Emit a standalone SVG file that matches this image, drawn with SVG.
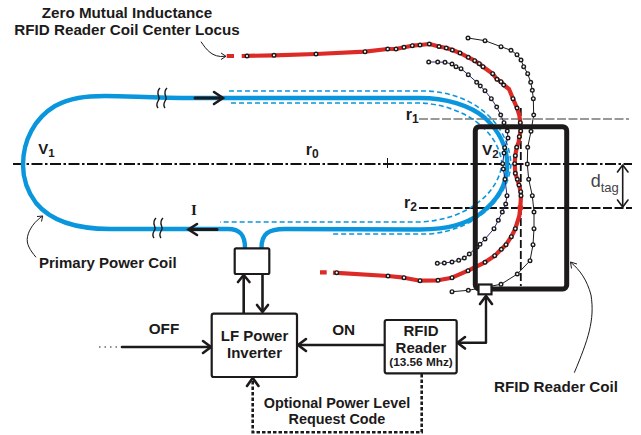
<svg xmlns="http://www.w3.org/2000/svg" width="641" height="435" viewBox="0 0 641 435">
<style>
text{font-family:"Liberation Sans",Arial,sans-serif;font-weight:bold;fill:#1c1a1a}
.c{fill:none;stroke:#1c1a1a;stroke-linecap:round;stroke-linejoin:round}
.b{fill:#fff;stroke:#1c1a1a;stroke-width:2.2}
.coil{fill:none;stroke:#0a96dc;stroke-width:4.4}
.dash{fill:none;stroke:#0a96dc;stroke-width:1.6;stroke-dasharray:5 3}
.red{fill:none;stroke:#dc2a26;stroke-width:4.2;stroke-linejoin:round}
.pts circle{fill:#fff;stroke:#1c1a1a;stroke-width:1.4;r:1.8px}
.head{fill:none;stroke:#1c1a1a;stroke-width:2.6;stroke-linecap:round;stroke-linejoin:miter}
.thin{fill:none;stroke:#1c1a1a;stroke-width:1}
</style>
<rect width="641" height="435" fill="#fff"/>
<g id="center-lines" fill="none">
<path d="M13,164H632" stroke="#111" stroke-width="2" stroke-dasharray="11 2.5 2.5 2.5"/>
<path d="M387.5,158V168" stroke="#111" stroke-width="1"/>
<path d="M419,119H629" stroke="#999" stroke-width="1.8" stroke-dasharray="9 2.5"/>
<path d="M419,208H632" stroke="#111" stroke-width="1.8" stroke-dasharray="9 2.5"/>
<path d="M520.8,108V286" stroke="#111" stroke-width="1.8" stroke-dasharray="8 3"/>
</g>
<g id="primary-power-coil">
<path class="coil" d="M245,248C245,235 240,229 228,229L110,229C75,229 50,220 36,203C27,191 23,178 23,165C23,140 35,118 55,106C70,98 85,96 105,96C130,96 150,98 195,98L420,98C445,98 470,105 485,118C500,132 507,148 507.3,164C507,185 498,200 480,214C465,224 450,229 420,229.5L285,229C268,229 261.5,234 261.5,248"/>
<path class="dash" d="M229,91H425C470,92 508,120 511,164C509,195 480,229 430,234H332"/>
<path class="dash" d="M231,103H420C455,104 498,125 502,164C498,195 465,220 420,222H220"/>
<path class="thin" style="stroke-width:1.4" d="M160,88C155,93 160,96 159,99C158,102 155,104 158,108M167,88C162,93 167,96 166,99C165,102 162,104 165,108M156,218C151,223 156,226 155,229C154,232 151,234 154,238M163,218C158,223 163,226 162,229C161,232 158,234 161,238"/>
</g>
<g id="locus-curves">
<path class="red" d="M226.7,56H234M241.7,56L274,55.3L316,54L365,51.7L387.7,49L396,49L404,47.3L412.3,45.7L420,45L429.3,44L439,46.5L446.3,48L452.3,50L460,53L468.3,57.3L474.7,60.7L479.3,63.7L483,66.7L492.7,73.7L497,79.3L501,81.7L503.7,85L509,89L513,98.7L517,108L519.3,115L520.3,122.7L520.7,131L519.3,136.7L518.7,142L516.7,147.3L515.3,155.7L514.7,163.7L515.3,173.3L517.3,179.3L519,185L520.7,191.7L521,195.7L520.3,207.7L519.3,216L515.3,228.7L511.3,236.7L506,244.7L501.3,249.3L494.7,255.7L485,262.3L468,270.7L452,277.7L438,280.3L420,280.7L404,277.7L388,276L333,272.7M326.7,272.3H320"/>
<circle cx="520.3" cy="207.7" r="3" fill="#dc2a26"/>
<path fill="none" stroke="#2a2580" stroke-width="1" d="M428.7,62L437.7,62L445,62.3L452,64L456,66.7L461,68.7L468.3,74.7L476.7,82.3L480.3,86L485,90.7L491.3,98.7L496.7,107L500.7,115L504,122.7L507.3,131L508,138L504.7,147.7L504,153L502.7,163.7L503.3,169L505,179.3L507,195.7L505.7,204L502.3,212L498.3,220.3L494,228.7L485,239L480,244.3L477,247L469.3,254L464.3,258L458.7,260.3L452,262L444.3,263L437.3,263.3"/>
<path fill="none" stroke="#1c1a1a" stroke-width="1" d="M468,38L485,40.7L501,46.7L511,50.3L517,54.7L521,60L523.7,66.7L527.7,73.7L530.7,82.3L532.3,90.3L533.3,98.7L533.7,115L531,131.3L527.7,147.3L527.3,164L528.7,179.3L532.3,195.7L534,212L534,228.7L533,244.7L530,260.7L517.3,274L501,284.3L468.3,290.3L452,291.7"/>
<g class="pts">
<circle cx="247" cy="56" r="1.5"/><circle cx="274" cy="55.3" r="1.5"/><circle cx="316" cy="54" r="1.5"/><circle cx="365" cy="51.7" r="1.5"/><circle cx="387.7" cy="49" r="1.5"/><circle cx="396" cy="49" r="1.5"/><circle cx="404" cy="47.3" r="1.5"/><circle cx="412.3" cy="45.7" r="1.5"/><circle cx="420" cy="45" r="1.5"/><circle cx="429.3" cy="44" r="1.5"/><circle cx="439" cy="46.5" r="1.5"/><circle cx="446.3" cy="48" r="1.5"/><circle cx="452.3" cy="50" r="1.5"/><circle cx="460" cy="53" r="1.5"/><circle cx="468.3" cy="57.3" r="1.5"/><circle cx="474.7" cy="60.7" r="1.5"/><circle cx="479.3" cy="63.7" r="1.5"/><circle cx="483" cy="66.7" r="1.5"/><circle cx="492.7" cy="73.7" r="1.5"/><circle cx="497" cy="79.3" r="1.5"/><circle cx="501" cy="81.7" r="1.5"/><circle cx="503.7" cy="85" r="1.5"/><circle cx="513" cy="98.7" r="1.5"/><circle cx="517" cy="108" r="1.5"/><circle cx="520.3" cy="122.7" r="1.5"/><circle cx="520.7" cy="131" r="1.5"/><circle cx="519.3" cy="136.7" r="1.5"/><circle cx="516.7" cy="147.3" r="1.5"/><circle cx="515.3" cy="155.7" r="1.5"/><circle cx="514.7" cy="163.7" r="1.5"/><circle cx="515.3" cy="173.3" r="1.5"/><circle cx="517.3" cy="179.3" r="1.5"/><circle cx="519" cy="185" r="1.5"/><circle cx="520.7" cy="191.7" r="1.5"/><circle cx="521" cy="195.7" r="1.5"/><circle cx="515.3" cy="228.7" r="1.5"/><circle cx="511.3" cy="236.7" r="1.5"/><circle cx="506" cy="244.7" r="1.5"/><circle cx="501.3" cy="249.3" r="1.5"/><circle cx="494.7" cy="255.7" r="1.5"/><circle cx="485" cy="262.3" r="1.5"/><circle cx="468" cy="270.7" r="1.5"/><circle cx="452" cy="277.7" r="1.5"/><circle cx="438" cy="280.3" r="1.5"/><circle cx="420" cy="280.7" r="1.5"/><circle cx="404" cy="277.7" r="1.5"/><circle cx="388" cy="276" r="1.5"/><circle cx="336.7" cy="272.7" r="1.5"/>
<circle cx="428.7" cy="62" r="1.5"/><circle cx="437.7" cy="62" r="1.5"/><circle cx="445" cy="62.3" r="1.5"/><circle cx="452" cy="64" r="1.5"/><circle cx="456" cy="66.7" r="1.5"/><circle cx="461" cy="68.7" r="1.5"/><circle cx="468.3" cy="74.7" r="1.5"/><circle cx="476.7" cy="82.3" r="1.5"/><circle cx="480.3" cy="86" r="1.5"/><circle cx="485" cy="90.7" r="1.5"/><circle cx="491.3" cy="98.7" r="1.5"/><circle cx="496.7" cy="107" r="1.5"/><circle cx="500.7" cy="115" r="1.5"/><circle cx="504" cy="122.7" r="1.5"/><circle cx="507.3" cy="131" r="1.5"/><circle cx="508" cy="138" r="1.5"/><circle cx="504.7" cy="147.7" r="1.5"/><circle cx="504" cy="153" r="1.5"/><circle cx="502.7" cy="163.7" r="1.5"/><circle cx="503.3" cy="169" r="1.5"/><circle cx="505" cy="179.3" r="1.5"/><circle cx="507" cy="195.7" r="1.5"/><circle cx="505.7" cy="204" r="1.5"/><circle cx="502.3" cy="212" r="1.5"/><circle cx="498.3" cy="220.3" r="1.5"/><circle cx="494" cy="228.7" r="1.5"/><circle cx="485" cy="239" r="1.5"/><circle cx="480" cy="244.3" r="1.5"/><circle cx="477" cy="247" r="1.5"/><circle cx="469.3" cy="254" r="1.5"/><circle cx="464.3" cy="258" r="1.5"/><circle cx="458.7" cy="260.3" r="1.5"/><circle cx="452" cy="262" r="1.5"/><circle cx="444.3" cy="263" r="1.5"/><circle cx="437.3" cy="263.3" r="1.5"/>
<circle cx="468" cy="38" r="1.5"/><circle cx="485" cy="40.7" r="1.5"/><circle cx="501" cy="46.7" r="1.5"/><circle cx="511" cy="50.3" r="1.5"/><circle cx="517" cy="54.7" r="1.5"/><circle cx="521" cy="60" r="1.5"/><circle cx="523.7" cy="66.7" r="1.5"/><circle cx="527.7" cy="73.7" r="1.5"/><circle cx="530.7" cy="82.3" r="1.5"/><circle cx="532.3" cy="90.3" r="1.5"/><circle cx="533.3" cy="98.7" r="1.5"/><circle cx="533.7" cy="115" r="1.5"/><circle cx="531" cy="131.3" r="1.5"/><circle cx="527.7" cy="147.3" r="1.5"/><circle cx="527.3" cy="164" r="1.5"/><circle cx="528.7" cy="179.3" r="1.5"/><circle cx="532.3" cy="195.7" r="1.5"/><circle cx="534" cy="212" r="1.5"/><circle cx="534" cy="228.7" r="1.5"/><circle cx="533" cy="244.7" r="1.5"/><circle cx="530" cy="260.7" r="1.5"/><circle cx="517.3" cy="274" r="1.5"/><circle cx="501" cy="284.3" r="1.5"/><circle cx="468.3" cy="290.3" r="1.5"/><circle cx="452" cy="291.7" r="1.5"/>
</g>
</g>
<g id="rfid-reader-coil">
<rect x="475.3" y="126.7" width="91.4" height="162.3" rx="4" fill="none" stroke="#1c1a1a" stroke-width="5"/>
</g>
<g id="connectors">
<path class="c" stroke-width="3" d="M195,98H222"/><path class="head" d="M214,92L223,98L214,104"/>
<path class="c" stroke-width="3" d="M217,229.5H190"/><path class="head" d="M197,224L188.5,229.5L197,235"/>
<path class="c" stroke-width="2.6" d="M243.7,313V276"/><path class="head" d="M238,282L243.7,275L249.5,282"/>
<path class="c" stroke-width="2.6" d="M262.5,274V311"/><path class="head" d="M257,305L262.5,312L268,305"/>
<path class="c" stroke-width="2.6" d="M122,347H210"/><path class="head" d="M203,341L211,347L203,353"/>
<path d="M99,347H121" fill="none" stroke="#1c1a1a" stroke-width="1.2" stroke-dasharray="1.5 4"/>
<path class="c" stroke-width="2.4" d="M384,345H299"/><path class="head" d="M306,339L298,345L306,351"/>
<path class="c" stroke-width="2.4" d="M458,342.7H486V297"/><path class="head" d="M465,337L457.5,342.7L465,348.5M480,304L486,296L492,304"/>
<path fill="none" stroke="#1c1a1a" stroke-width="2.6" stroke-dasharray="3.5 2" d="M421.7,374V432.3H252.7V380"/><path class="head" d="M247,386L252.7,378L258.5,386"/>
<path class="thin" d="M201,41.7C206,49 212,58 225,56.3"/><path class="thin" d="M221,53L226,56.3L221,59.5"/>
<path class="thin" d="M574.3,372.7C588,340 595,320 591,295C587,280 580,270 570.7,262.3"/><path class="thin" d="M571.5,268.5L570.5,262L577,264"/>
<path class="thin" d="M36,257.3C30,250 26,244 27.5,236.7C29,229 35,221 42.7,216"/><path class="thin" d="M37,216.5L42.7,216L41.5,221.5"/>
<path class="c" stroke-width="1.6" d="M622.7,166V206"/><path class="c" stroke-width="1.6" d="M617.5,172L622.7,165L628,172M617.5,200L622.7,207L628,200"/>
</g>
<g id="small-coil-box"><rect class="b" x="234.7" y="248.3" width="34.6" height="25.7" rx="1.5"/></g>
<g id="coil-port"><rect class="b" x="478.5" y="284.5" width="13" height="9.8"/></g>
<g id="lf-power-inverter"><rect class="b" x="211.7" y="313.7" width="85.3" height="63.3" rx="2"/>
<text x="254.5" y="341" font-size="15" text-anchor="middle">LF Power</text><text x="254.5" y="358" font-size="15" text-anchor="middle">Inverter</text></g>
<g id="rfid-reader"><rect class="b" x="384.7" y="320" width="72" height="53.3" rx="2"/>
<text x="421" y="336" font-size="15" text-anchor="middle">RFID</text><text x="421" y="352.7" font-size="15" text-anchor="middle">Reader</text><text x="421" y="366" font-size="11.8" text-anchor="middle">(13.56 Mhz)</text></g>
<g id="labels">
<text x="127" y="18" font-size="15.2" text-anchor="middle">Zero Mutual Inductance</text>
<text x="127" y="34.5" font-size="15.2" text-anchor="middle">RFID Reader Coil Center Locus</text>
<text x="38.3" y="154" font-size="15">V<tspan font-size="11.5" dy="3">1</tspan></text>
<text x="482" y="155" font-size="15.5">V<tspan font-size="11.5" dy="3">2</tspan></text>
<text x="305.7" y="155" font-size="16">r<tspan font-size="12" dy="3">0</tspan></text>
<text x="405.7" y="120" font-size="16">r<tspan font-size="12" dy="3">1</tspan></text>
<text x="404" y="208.3" font-size="16">r<tspan font-size="12" dy="3">2</tspan></text>
<text x="194" y="215" font-size="15" text-anchor="middle" style="font-family:'Liberation Serif',serif">I</text>
<text x="39" y="268.3" font-size="15">Primary Power Coil</text>
<text x="164" y="334" font-size="15.3" text-anchor="middle">OFF</text>
<text x="343.7" y="335" font-size="15.3" text-anchor="middle">ON</text>
<text x="337" y="407.7" font-size="14.4" text-anchor="middle">Optional Power Level</text>
<text x="337" y="424" font-size="14.4" text-anchor="middle">Request Code</text>
<text x="556" y="391.7" font-size="15.2" text-anchor="middle">RFID Reader Coil</text>
<text x="590.7" y="186.7" font-size="18" style="font-weight:normal;fill:#444">d<tspan font-size="13" dy="5">tag</tspan></text>
</g>
</svg>
